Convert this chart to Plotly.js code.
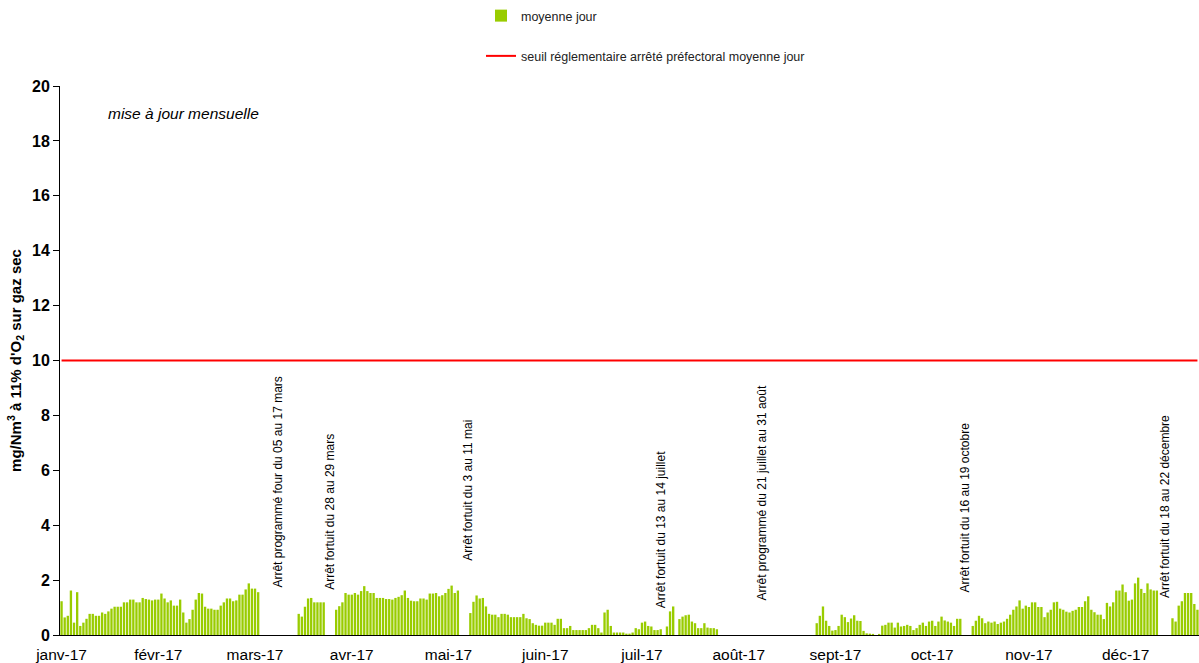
<!DOCTYPE html>
<html>
<head>
<meta charset="utf-8">
<script src="https://cdn.plot.ly/plotly-3.0.1.min.js"></script>
<style>html,body{margin:0;padding:0;background:#fff;}#chart{width:1199px;height:663px;}</style>
</head>
<body>
<div id="chart"></div>
<script>
// Daily averages (mg/Nm3 at 11% O2, dry gas); null = no data (shutdown)
const janv = [1.23,0.64,0.70,1.62,0.45,1.56,0.33,0.45,0.59,0.77,0.77,0.70,0.70,0.82,0.77,0.86,0.96,1.03,1.03,1.03,1.19,1.19,1.29,1.29,1.19,1.19,1.35,1.31,1.29,1.26,1.29];
const fevr = [1.29,1.51,1.33,1.19,1.26,1.07,1.07,1.29,0.82,0.45,0.58,0.92,1.29,1.53,1.51,1.03,0.96,0.96,0.92,0.92,1.07,1.19,1.33,1.33,1.23,1.26,1.47,1.47];
const mars = [1.66,1.88,1.69,1.69,1.56,null,null,null,null,null,null,null,null,null,null,null,null,0.77,0.67,1.03,1.33,1.35,1.19,1.19,1.19,1.19,null,null,null,0.92,1.05];
const avr  = [1.19,1.53,1.47,1.47,1.53,1.47,1.60,1.78,1.60,1.53,1.53,1.35,1.35,1.35,1.31,1.31,1.29,1.35,1.39,1.45,1.62,1.35,1.25,1.23,1.23,1.33,1.33,1.29,1.51,1.51];
const mai  = [1.53,1.41,1.45,1.53,1.68,1.80,1.53,1.62,null,null,null,0.80,1.21,1.44,1.33,1.35,1.04,0.77,0.74,0.74,0.65,0.77,0.77,0.74,0.65,0.65,0.65,0.65,0.77,0.61,0.58];
const juin = [0.43,0.37,0.34,0.34,0.45,0.45,0.45,0.37,0.59,0.59,0.25,0.25,0.33,0.18,0.18,0.18,0.18,0.18,0.25,0.37,0.37,0.25,0.09,0.82,0.92,0.33,0.09,0.09,0.09,0.09];
const juil = [0.05,0.05,0.09,0.25,0.21,0.45,0.49,0.33,0.31,0.18,0.18,0.21,null,0.31,0.86,1.04,null,0.58,0.67,0.72,0.74,0.49,0.43,0.25,0.25,0.43,0.27,0.25,0.25,0.21,null];
const aout = [null,null,null,null,null,null,null,null,null,null,null,null,null,null,null,null,null,null,null,null,null,null,null,null,null,null,null,null,null,null,0.43];
const sept = [0.70,1.04,0.52,0.33,0.16,0.18,0.33,0.74,0.65,0.47,0.60,0.72,0.52,0.51,0.15,0.06,0.05,0.04,null,0.04,0.34,0.37,0.45,0.45,0.27,0.45,0.31,0.33,0.37,0.33];
const oct  = [0.18,0.25,0.37,0.45,0.33,0.49,0.52,0.33,0.49,0.67,0.53,0.49,0.45,0.33,0.59,0.59,null,null,null,0.33,0.52,0.70,0.61,0.43,0.49,0.45,0.49,0.40,0.45,0.49,0.59];
const nov  = [0.74,0.92,1.04,1.26,0.96,1.07,1.02,1.19,1.19,1.02,1.02,0.65,0.82,0.92,1.19,1.21,0.96,0.92,0.85,0.82,0.88,0.92,1.02,1.02,1.23,1.41,0.92,0.83,0.74,0.74];
const dec  = [0.58,1.17,1.04,1.19,1.62,1.62,1.84,1.56,1.25,1.29,1.88,2.09,1.68,1.53,1.88,1.66,1.62,1.62,null,null,null,null,0.61,0.49,1.07,1.23,1.53,1.53,1.53,1.13,0.92];

const seuil = 10; // regulatory daily threshold
const tickLabels = ['janv-17','févr-17','mars-17','avr-17','mai-17','juin-17','juil-17','août-17','sept-17','oct-17','nov-17','déc-17'];
const labelStep = 31; // category axis labelled every 31 days
const arrets = [
  {day: 69.4, bottom: 1.64, text: 'Arrêt programmé four du 05 au 17 mars'},
  {day: 86.0, bottom: 1.57, text: 'Arrêt fortuit du 28 au 29 mars'},
  {day: 130.0, bottom: 2.62, text: 'Arrêt fortuit du 3 au 11 mai'},
  {day: 192.0, bottom: 0.91, text: 'Arrêt fortuit du 13 au 14 juillet'},
  {day: 224.5, bottom: 1.17, text: 'Arrêt programmé du 21 juillet au 31 août'},
  {day: 289.4, bottom: 1.46, text: 'Arrêt fortuit du 16 au 19 octobre'},
  {day: 353.4, bottom: 1.27, text: 'Arrêt fortuit du 18 au 22 décembre'}
];

const values = [].concat(janv,fevr,mars,avr,mai,juin,juil,aout,sept,oct,nov,dec);
const days = values.map((_, i) => i);
const tickVals = tickLabels.map((_, i) => i * labelStep);

const font = 'Liberation Sans, Arial, sans-serif';

const traces = [
  {type:'bar', x: days, y: values, name:'moyenne jour', legendgroup:'a',
   marker:{color:'#99CC00', line:{width:0}}, hoverinfo:'x+y'},
  {type:'scatter', mode:'lines', x: days, y: days.map(() => seuil), legendgroup:'b',
   name:'seuil réglementaire arrêté préfectoral moyenne jour', line:{color:'#FF0000', width:2}}
];

const annotations = [
  {xref:'paper', yref:'paper', x:(106-60)/1139, y:(635-113)/549, xanchor:'left', yanchor:'middle',
   text:'<i>mise à jour mensuelle</i>', showarrow:false, font:{family:font, size:15.5, color:'#000'}}
].concat(arrets.map(a => ({
  xref:'x', yref:'y', x:a.day, y:a.bottom, xanchor:'center', yanchor:'bottom', textangle:-90,
  text:a.text, showarrow:false, font:{family:font, size:12, color:'#000'}
})));

const layout = {
  width:1199, height:663,
  margin:{l:60, r:0, t:86, b:28, pad:0},
  paper_bgcolor:'#fff', plot_bgcolor:'#fff',
  bargap:0.25,
  font:{family:font, color:'#000'},
  showlegend:true,
  legend:{x:(481-60)/1139, y:(635-1)/549, xanchor:'left', yanchor:'top', orientation:'v',
          traceorder:'grouped', tracegroupgap:21, font:{family:font, size:12.5, color:'#222'},
          bgcolor:'rgba(0,0,0,0)', itemwidth:30},
  xaxis:{range:[-0.5, 364.5], tickmode:'array', tickvals:tickVals, ticktext:tickLabels,
         showline:true, linecolor:'#000', linewidth:1, ticks:'', showgrid:false, zeroline:false,
         ticklabelstandoff:5,
         tickfont:{family:font, size:15.5, color:'#000'}, automargin:false},
  yaxis:{range:[0,20], dtick:2, tick0:0, showline:true, linecolor:'#000', linewidth:1,
         ticks:'outside', ticklen:6, tickcolor:'#000', showgrid:false, zeroline:false,
         tickfont:{family:font, size:16, color:'#000', weight:'bold'}, automargin:false,
         title:{text:'<b>mg/Nm<sup>3</sup> à 11% d\'O<sub>2</sub> sur gaz sec</b>', standoff:6,
                font:{family:font, size:15, color:'#000'}}},
  annotations: annotations
};

Plotly.newPlot('chart', traces, layout, {displayModeBar:false, staticPlot:true});
</script>
</body>
</html>
